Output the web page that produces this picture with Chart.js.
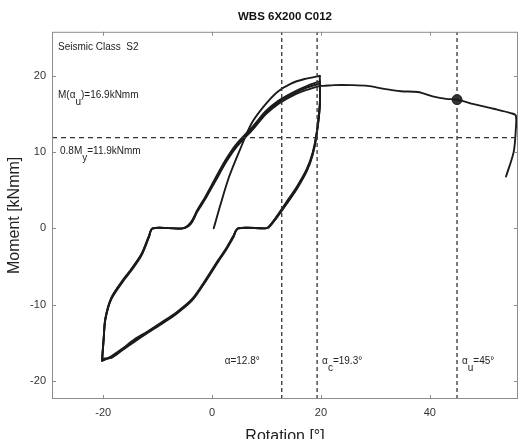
<!DOCTYPE html>
<html>
<head>
<meta charset="utf-8">
<script src="https://cdn.jsdelivr.net/npm/chart.js@4.4.0/dist/chart.umd.min.js"></script>
<style>
  html, body { margin: 0; padding: 0; background: #fff; }
  #wrap { width: 518px; height: 439px; }
</style>
</head>
<body>
<div id="wrap"><canvas id="hyst" width="518" height="439"></canvas></div>
<script>
// axis limits and ticks
const X_MIN = -29.4, X_MAX = 56.2;
const Y_MIN = -22.4, Y_MAX = 25.8;
const xTicks = [-20, 0, 20, 40];
const yTicks = [-20, -10, 0, 10, 20];

// first loading from zero
const initRot = [0.3, 1.5, 3.1, 5.0, 7.2, 9.5, 12.0, 14.5, 17.0, 19.8];
const initMom = [0.0, 3.0, 6.7, 10.1, 13.7, 16.0, 17.9, 19.0, 19.6, 20.0];

// unloading from +20 deg down to -20 deg (same rotations, one moment list per cycle)
const downRot  = [19.8, 19.8, 19.2, 18.5, 17.4, 15.6, 13.6, 11.8, 10.4, 9.8, 4.8, 3.9, 2.6, 1.1, -1.5, -3.7, -6.5, -9.4, -12.0, -14.3, -16.5, -18.5, -20.2];
const downMom1 = [20.0, 16.5, 12.5, 10.0, 7.8, 5.5, 3.4, 1.5, 0.2, 0, 0, -1.0, -2.6, -4.2, -7.1, -9.3, -11.0, -12.4, -13.6, -14.6, -15.8, -16.8, -17.4];
const downMom2 = [19.3, 16.2, 12.3, 9.8, 7.6, 5.3, 3.2, 1.4, 0.2, 0, 0, -1.1, -2.7, -4.3, -7.2, -9.4, -11.1, -12.5, -13.7, -14.8, -15.9, -16.9, -17.3];
const downMom3 = [19.0, 16.0, 12.2, 9.7, 7.5, 5.2, 3.1, 1.3, 0.1, 0, 0, -1.2, -2.8, -4.4, -7.3, -9.5, -11.2, -12.6, -13.8, -14.9, -16.0, -17.0, -17.1];

// reloading from -20 deg up to +20 deg
const upRot  = [-20.2, -19.9, -19.6, -18.5, -16.2, -14.9, -13.0, -11.6, -10.9, -5.4, -3.9, -2.7, -1.2, 0.7, 2.5, 4.4, 7.5, 9.9, 12.3, 15.0, 17.5, 19.8];
const upMom1 = [-17.4, -14.5, -12.0, -9.3, -6.8, -5.6, -3.6, -1.2, 0, 0, 0.8, 2.4, 4.2, 6.7, 9.0, 11.0, 13.4, 15.4, 16.8, 17.9, 18.7, 19.3];
const upMom2 = [-17.3, -14.4, -11.9, -9.2, -6.7, -5.5, -3.5, -1.1, 0, 0, 0.7, 2.3, 4.0, 6.5, 8.8, 10.8, 13.2, 15.2, 16.6, 17.7, 18.5, 19.0];
const upMom3 = [-17.1, -14.3, -11.8, -9.1, -6.6, -5.4, -3.4, -1.0, 0, 0, 0.6, 2.2, 3.9, 6.3, 8.6, 10.6, 13.0, 15.0, 16.4, 17.5, 18.2, 18.7];

// final monotonic push after the cycles
const finalRot = [19.8, 20.5, 22.4, 25.5, 28.6, 31.6, 34.7, 37.8, 40.7, 43.0, 45.0, 48.1, 51.7, 55.0, 55.8, 55.8, 55.4, 54.0];
const finalMom = [18.7, 18.7, 18.8, 18.8, 18.7, 18.3, 18.0, 17.9, 17.3, 17.0, 16.9, 16.3, 15.7, 15.1, 14.8, 13.0, 10.0, 6.8];

// reference values
const alphaRot = [12.8, 19.3, 45];   // alpha, alpha_c, alpha_u
const yieldMom = 11.9;               // 0.8 My
const ultRot = 45, ultMom = 16.9;    // M(alpha_u)

const pts = (xs, ys) => xs.map((v, i) => ({ x: v, y: ys[i] }));

const curve = (xs, ys) => ({
    data: pts(xs, ys),
    showLine: true,
    borderColor: '#1b1b1b',
    borderWidth: 1.9,
    tension: 0.3,
    pointRadius: 0,
    borderCapStyle: 'round',
    borderJoinStyle: 'round'
});

const dashed = (data, dash) => ({
    data: data,
    showLine: true,
    borderColor: '#333',
    borderWidth: 1.3,
    borderDash: dash,
    pointRadius: 0
});

const datasets = [
    ...alphaRot.map(r => dashed([{ x: r, y: Y_MIN }, { x: r, y: Y_MAX }], [4, 3])),
    dashed([{ x: X_MIN, y: yieldMom }, { x: X_MAX, y: yieldMom }], [5, 4]),
    curve(initRot, initMom),
    curve(downRot, downMom1),
    curve(upRot, upMom1),
    curve(downRot, downMom2),
    curve(upRot, upMom2),
    curve(downRot, downMom3),
    curve(upRot, upMom3),
    curve(finalRot, finalMom),
    {
        data: [{ x: ultRot, y: ultMom }],
        showLine: false,
        pointRadius: 5,
        pointBackgroundColor: '#333',
        pointBorderColor: '#222'
    }
];

const FONT = '"Liberation Sans", Arial, sans-serif';

// draws parts like ['M(α', 'u', ')=16.9kNmm'], every second part lowered as subscript
function subText(ctx, parts, x, y) {
    parts.forEach((p, i) => {
        const dy = i % 2 === 1 ? 7 : 0;
        ctx.fillText(p, x, y + dy);
        x += ctx.measureText(p).width;
    });
}

const frameAndNotes = {
    id: 'frameAndNotes',
    afterDatasetsDraw(chart) {
        const { ctx, chartArea: a, scales: { x, y } } = chart;
        ctx.save();
        ctx.strokeStyle = '#8c8c8c';
        ctx.lineWidth = 1;
        ctx.strokeRect(a.left + 0.5, a.top + 0.5, a.right - a.left - 1, a.bottom - a.top - 1);

        // inward tick marks on all four sides
        ctx.beginPath();
        xTicks.forEach(v => {
            const px = Math.round(x.getPixelForValue(v)) + 0.5;
            ctx.moveTo(px, a.bottom); ctx.lineTo(px, a.bottom - 4);
            ctx.moveTo(px, a.top); ctx.lineTo(px, a.top + 4);
        });
        yTicks.forEach(v => {
            const py = Math.round(y.getPixelForValue(v)) + 0.5;
            ctx.moveTo(a.left, py); ctx.lineTo(a.left + 4, py);
            ctx.moveTo(a.right, py); ctx.lineTo(a.right - 4, py);
        });
        ctx.stroke();

        ctx.fillStyle = '#222';
        ctx.font = '10px ' + FONT;
        ctx.textBaseline = 'middle';
        ctx.textAlign = 'left';
        const lx = a.left + 6;
        ctx.fillText('Seismic Class  S2', lx, a.top + 15);
        subText(ctx, ['M(α', 'u', ')=' + ultMom + 'kNmm'], lx, y.getPixelForValue(ultMom) - 4);
        subText(ctx, ['0.8M', 'y', '=' + yieldMom + 'kNmm'], lx + 2, y.getPixelForValue(yieldMom) + 14);

        const ly = y.getPixelForValue(-17.5);
        ctx.textAlign = 'right';
        ctx.fillText('α=' + alphaRot[0] + '°', x.getPixelForValue(alphaRot[0]) - 22, ly);
        ctx.textAlign = 'left';
        subText(ctx, ['α', 'c', '=' + alphaRot[1] + '°'], x.getPixelForValue(alphaRot[1]) + 5, ly);
        subText(ctx, ['α', 'u', '=' + alphaRot[2] + '°'], x.getPixelForValue(alphaRot[2]) + 5, ly);
        ctx.restore();
    }
};

new Chart(document.getElementById('hyst'), {
    type: 'scatter',
    data: { datasets: datasets },
    options: {
        responsive: false,
        animation: false,
        layout: { autoPadding: false, padding: 0 },
        plugins: {
            legend: { display: false },
            tooltip: { enabled: false },
            title: {
                display: true,
                text: 'WBS 6X200 C012',
                fullSize: false,
                color: '#111',
                font: { family: FONT, size: 11.5, weight: 'bold' },
                padding: { top: 10, bottom: 8 }
            }
        },
        scales: {
            x: {
                type: 'linear',
                min: X_MIN,
                max: X_MAX,
                afterBuildTicks: s => { s.ticks = xTicks.map(v => ({ value: v })); },
                afterFit: s => { s.height = 40; },
                grid: { display: false, drawTicks: false },
                border: { display: false },
                ticks: { color: '#333', font: { family: FONT, size: 11 }, padding: 7, maxRotation: 0 },
                title: {
                    display: true,
                    text: 'Rotation [°]',
                    color: '#222',
                    font: { family: FONT, size: 16 },
                    padding: { top: 0, bottom: -7 }
                }
            },
            y: {
                type: 'linear',
                min: Y_MIN,
                max: Y_MAX,
                afterBuildTicks: s => { s.ticks = yTicks.map(v => ({ value: v })); },
                afterFit: s => { s.width = 52; },
                grid: { display: false, drawTicks: false },
                border: { display: false },
                ticks: { color: '#333', font: { family: FONT, size: 11 }, padding: 6 },
                title: {
                    display: true,
                    text: 'Moment [kNmm]',
                    color: '#222',
                    font: { family: FONT, size: 16 },
                    padding: { top: 5, bottom: 0 }
                }
            }
        }
    },
    plugins: [frameAndNotes]
});
</script>
</body>
</html>
